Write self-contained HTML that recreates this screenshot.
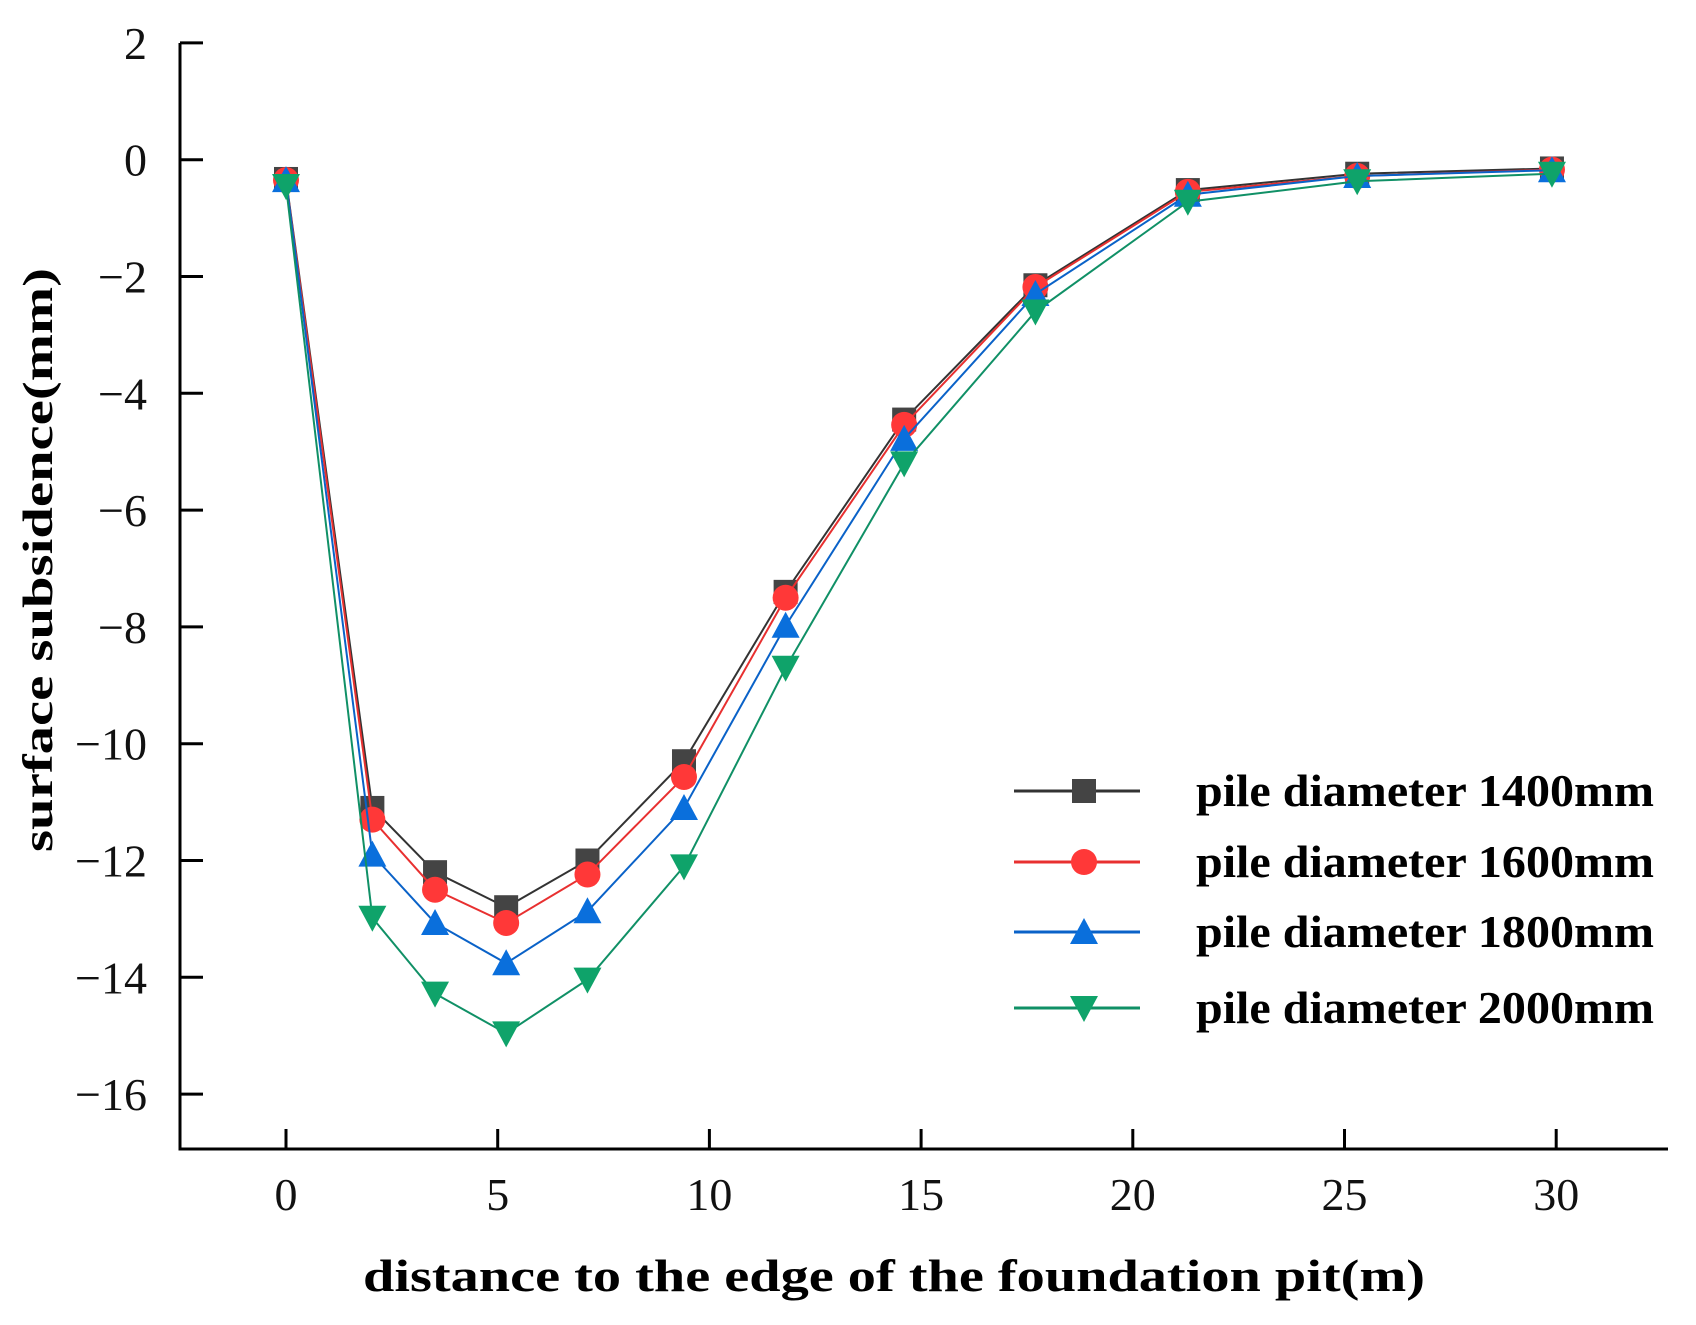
<!DOCTYPE html>
<html><head><meta charset="utf-8"><style>
html,body{margin:0;padding:0;background:#fff;}
svg{display:block;}
text{font-family:"Liberation Serif",serif;}
</style></head><body>
<svg id="chart" width="1696" height="1325" viewBox="0 0 1696 1325" xmlns="http://www.w3.org/2000/svg">
<g id="axes"></g>
<g id="series"></g>
<g id="legend"></g>
<text x="894" y="1291" text-anchor="middle" font-size="46" font-weight="bold" textLength="1062" lengthAdjust="spacingAndGlyphs">distance to the edge of the foundation pit(m)</text>
<text transform="translate(52,560) rotate(-90)" text-anchor="middle" font-size="42" font-weight="bold" textLength="584" lengthAdjust="spacingAndGlyphs">surface subsidence(mm)</text>
</svg>
<script>
const xValues = [0, 2.04, 3.52, 5.2, 7.12, 9.4, 11.8, 14.6, 17.7, 21.3, 25.3, 29.9];
const seriesNames = ["pile diameter 1400mm","pile diameter 1600mm","pile diameter 1800mm","pile diameter 2000mm"];
const s1400 = [-0.33, -11.1, -12.2, -12.8, -12.0, -10.3, -7.4, -4.45, -2.15, -0.52, -0.24, -0.15];
const s1600 = [-0.35, -11.3, -12.5, -13.07, -12.24, -10.57, -7.5, -4.54, -2.18, -0.55, -0.28, -0.17];
const s1800 = [-0.35, -11.9, -13.07, -13.76, -12.87, -11.1, -7.98, -4.78, -2.3, -0.6, -0.28, -0.18];
const s2000 = [-0.45, -12.98, -14.28, -14.96, -14.04, -12.1, -8.7, -5.2, -2.6, -0.72, -0.37, -0.24];
const xTicks = [0,5,10,15,20,25,30];
const yTicks = [2,0,-2,-4,-6,-8,-10,-12,-14,-16];

const NS="http://www.w3.org/2000/svg";
const X0=286, XPU=42.34, Y0=159.7, YPU=58.4;
const xs=v=>X0+v*XPU, ys=v=>Y0-v*YPU;
function mk(tag,attrs,parent){const e=document.createElementNS(NS,tag);for(const k in attrs)e.setAttribute(k,attrs[k]);parent.appendChild(e);return e;}
const axes=document.getElementById('axes');
const axL=180, axB=1149, axT=43, axR=1668;
let e;
e=mk('line',{x1:axL,y1:axT,x2:axL,y2:axB+1.5,stroke:'#000','stroke-width':3},axes);


e=mk('line',{x1:axL-1.5,y1:axB,x2:axR,y2:axB,stroke:'#000','stroke-width':3},axes);


yTicks.forEach(t=>{
  const y=ys(t);
  e=mk('line',{x1:axL,y1:y,x2:axL+23,y2:y,stroke:'#000','stroke-width':3},axes);
  
  
  e=mk('text',{x:147,y:y+16,'text-anchor':'end','font-size':46,fill:'#111'},axes);
  e.textContent=(t<0?'\u2212'+(-t):String(t));
  
  
});
xTicks.forEach(t=>{
  const x=xs(t);
  e=mk('line',{x1:x,y1:axB,x2:x,y2:axB-20,stroke:'#000','stroke-width':3},axes);
  
  
  e=mk('text',{x:x,y:1210,'text-anchor':'middle','font-size':46,fill:'#111'},axes);
  e.textContent=String(t);
  
  
});
const colors=['#444444','#ff3838','#0a6fdc','#0fa36a'];
const lineColors=['#333333','#e83030','#0a62c8','#109066'];
const markers=['square','circle','tri-up','tri-down'];
function marker(type,x,y,c,parent){
  const s=12;
  if(type==='square') return mk('rect',{x:x-s,y:y-s,width:2*s,height:2*s,fill:c},parent);
  if(type==='circle') return mk('circle',{cx:x,cy:y,r:s+1,fill:c},parent);
  if(type==='tri-up') return mk('polygon',{points:`${x},${y-s-2} ${x+s+2},${y+s} ${x-s-2},${y+s}`,fill:c},parent);
  return mk('polygon',{points:`${x-s-2},${y-s} ${x+s+2},${y-s} ${x},${y+s+2}`,fill:c},parent);
}
const all=[s1400,s1600,s1800,s2000];
const ser=document.getElementById('series');
all.forEach((vals,i)=>{
  const g=mk('g',{},ser);
  
  
  const pts=vals.map((v,j)=>xs(xValues[j])+','+ys(v)).join(' ');
  e=mk('polyline',{points:pts,fill:'none',stroke:lineColors[i],'stroke-width':2},g);
  
  
  vals.forEach((v,j)=>{
    e=marker(markers[i],xs(xValues[j]),ys(v),colors[i],g);
    
    
  });
});
const leg=document.getElementById('legend');
const legY=[791,862,932,1008];
seriesNames.forEach((n,i)=>{
  const g=mk('g',{},leg);
  
  
  e=mk('line',{x1:1014,y1:legY[i],x2:1140,y2:legY[i],stroke:lineColors[i],'stroke-width':3},g);
  
  
  e=marker(markers[i],1084,legY[i],colors[i],g);
  
  
  e=mk('text',{x:1196,y:legY[i]+15,'font-size':46,'font-weight':'bold',textLength:458,lengthAdjust:'spacingAndGlyphs',fill:'#000'},g);
  e.textContent=n;
  
  
});
</script>
</body></html>
